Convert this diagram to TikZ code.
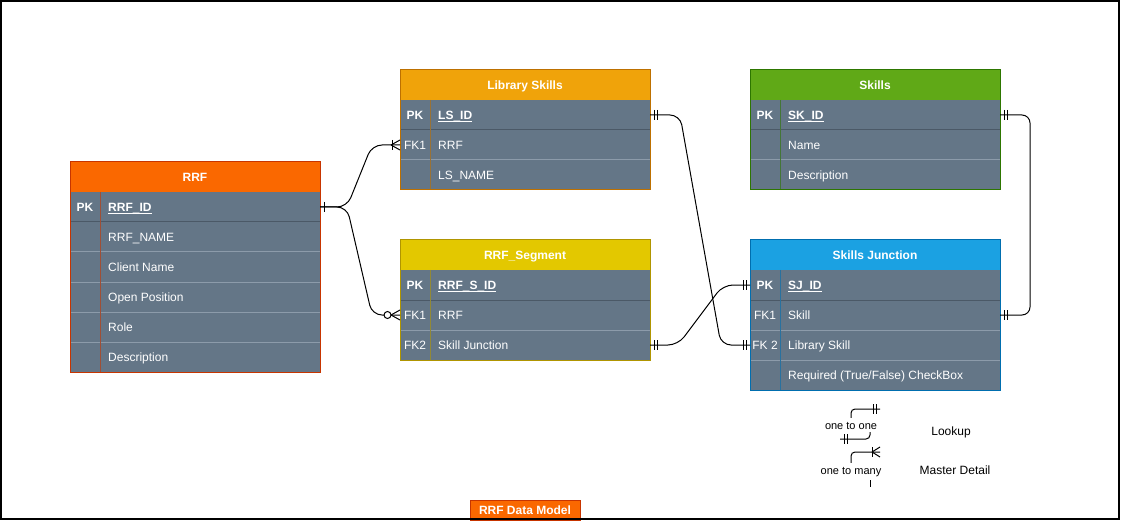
\documentclass[tikz,border=0pt]{standalone}
\usepackage{fontspec}
\setmainfont{Liberation Sans}
\definecolor{slate}{HTML}{647687}
\definecolor{sepd}{HTML}{4B5967}
\definecolor{sepl}{HTML}{8C9BAA}
\definecolor{rrfH}{HTML}{FA6800}
\definecolor{rrfS}{HTML}{C73500}
\definecolor{lsH}{HTML}{F0A30A}
\definecolor{lsS}{HTML}{BD7000}
\definecolor{sgH}{HTML}{E3C800}
\definecolor{sgS}{HTML}{B09500}
\definecolor{skH}{HTML}{60A917}
\definecolor{skS}{HTML}{2D7600}
\definecolor{sjH}{HTML}{1BA1E2}
\definecolor{sjS}{HTML}{006EAF}
\newcommand{\dfont}{\fontsize{12}{14}\selectfont}
\newcommand{\ulx}[1]{\setbox0\hbox{#1}\rlap{\rule[-2.2pt]{\wd0}{0.8pt}}\box0}
\newcommand{\ERrow}[5]{%
  \node[rowbox] (#1) at (#2,#3) {};
  \node[keytxt] (#1k) at ([xshift=15pt]#1.west) {#4};
  \node[nametxt] (#1t) at ([xshift=38pt]#1.west) {#5};
}
\newcommand{\ERframe}[4]{% #1 header, #2 last row, #3 stroke, #4 first row
  \draw[draw=#3!60!slate, line width=1pt] ([xshift=30pt]#4.north west) -- ([xshift=30pt]#2.south west);
  \draw[draw=#3, line width=1pt] (#1.north west) rectangle (#2.south east);
}
\tikzset{
  rowbox/.style={fill=slate, minimum width=250pt, minimum height=30pt, inner sep=0pt, outer sep=0pt, anchor=north west},
  hdrbox/.style={fill=#1, minimum width=250pt, minimum height=30pt, inner sep=0pt, outer sep=0pt, anchor=north west, text=white, font=\dfont\bfseries, text height=8.6pt, text depth=0pt},
  keytxt/.style={text=white, inner sep=0pt, anchor=center, font=\dfont, text height=8.6pt, text depth=0pt},
  nametxt/.style={text=white, inner sep=0pt, anchor=west, font=\dfont, text height=8.6pt, text depth=0pt},
  conn/.style={draw=black, line width=1pt, rounded corners=10pt},
  tick/.style={draw=black, line width=1pt},
  sepdark/.style={draw=sepd, line width=1pt},
  seplight/.style={draw=sepl, line width=1pt},
  legtxt/.style={text=black, inner sep=0pt, font=\fontsize{11}{13}\selectfont, text height=8pt, text depth=0pt},
  legtxtb/.style={text=black, inner sep=0pt, font=\dfont, text height=8.6pt, text depth=0pt},
}
\begin{document}
\begin{tikzpicture}[x=1pt,y=-1pt]
\useasboundingbox (0,0) rectangle (1121,521);
\fill[white] (0,0) rectangle (1121,521);

% ---------- RRF ----------
\node[hdrbox=rrfH] (rrfh) at (70,162) {RRF};
\ERrow{rrf1}{70}{192}{\textbf{PK}}{\textbf{\ulx{RRF\_ID}}}
\ERrow{rrf2}{70}{222}{}{RRF\_NAME}
\ERrow{rrf3}{70}{252}{}{Client Name}
\ERrow{rrf4}{70}{282}{}{Open Position}
\ERrow{rrf5}{70}{312}{}{Role}
\ERrow{rrf6}{70}{342}{}{Description}
\draw[sepdark] (rrf1.south west) -- (rrf1.south east);
\foreach \r in {2,...,5} \draw[seplight] (rrf\r.south west) -- (rrf\r.south east);
\ERframe{rrfh}{rrf6}{rrfS}{rrf1}

% ---------- Library Skills ----------
\node[hdrbox=lsH] (lsh) at (400,70) {Library Skills};
\ERrow{ls1}{400}{100}{\textbf{PK}}{\textbf{\ulx{LS\_ID}}}
\ERrow{ls2}{400}{130}{FK1}{RRF}
\ERrow{ls3}{400}{160}{}{LS\_NAME}
\draw[sepdark] (ls1.south west) -- (ls1.south east);
\draw[seplight] (ls2.south west) -- (ls2.south east);
\ERframe{lsh}{ls3}{lsS}{ls1}

% ---------- RRF_Segment ----------
\node[hdrbox=sgH] (sgh) at (400,240) {RRF\_Segment};
\ERrow{sg1}{400}{270}{\textbf{PK}}{\textbf{\ulx{RRF\_S\_ID}}}
\ERrow{sg2}{400}{300}{FK1}{RRF}
\ERrow{sg3}{400}{330}{FK2}{Skill Junction}
\draw[sepdark] (sg1.south west) -- (sg1.south east);
\draw[seplight] (sg2.south west) -- (sg2.south east);
\ERframe{sgh}{sg3}{sgS}{sg1}

% ---------- Skills ----------
\node[hdrbox=skH] (skh) at (750,70) {Skills};
\ERrow{sk1}{750}{100}{\textbf{PK}}{\textbf{\ulx{SK\_ID}}}
\ERrow{sk2}{750}{130}{}{Name}
\ERrow{sk3}{750}{160}{}{Description}
\draw[sepdark] (sk1.south west) -- (sk1.south east);
\draw[seplight] (sk2.south west) -- (sk2.south east);
\ERframe{skh}{sk3}{skS}{sk1}

% ---------- Skills Junction ----------
\node[hdrbox=sjH] (sjh) at (750,240) {Skills Junction};
\ERrow{sj1}{750}{270}{\textbf{PK}}{\textbf{\ulx{SJ\_ID}}}
\ERrow{sj2}{750}{300}{FK1}{Skill}
\ERrow{sj3}{750}{330}{FK 2}{Library Skill}
\ERrow{sj4}{750}{360}{}{Required (True/False) CheckBox}
\draw[sepdark] (sj1.south west) -- (sj1.south east);
\draw[seplight] (sj2.south west) -- (sj2.south east);
\draw[seplight] (sj3.south west) -- (sj3.south east);
\ERframe{sjh}{sj4}{sjS}{sj1}

% ---------- connectors ----------
\draw[conn] (rrf1.east) -- ++(27,0) -- ([xshift=-28pt]ls2.west) -- (ls2.west);
\draw[conn] (rrf1.east) -- ++(27,0) -- ([xshift=-28pt]sg2.west) -- (sg2.west);
\draw[tick] ([xshift=4pt]rrf1.east) ++(0,-5) -- ++(0,10);
% crow's foot + bar at Library Skills FK1
\draw[tick] ([xshift=-9pt]ls2.west) -- ++(9,-5);
\draw[tick] ([xshift=-9pt]ls2.west) -- ++(9,5);
\draw[tick] ([xshift=-8pt]ls2.west) ++(0,-5) -- ++(0,10);
% circle + crow's foot at RRF_Segment FK1
\draw[tick] ([xshift=-9pt]sg2.west) -- ++(9,-5);
\draw[tick] ([xshift=-9pt]sg2.west) -- ++(9,5);
\draw[tick, fill=white] ([xshift=-12.5pt]sg2.west) circle (3.5pt);

% Library Skills PK -> Skills Junction FK2
\draw[conn] (ls1.east) -- ([xshift=30pt]ls1.east) -- ([xshift=-29pt]sj3.west) -- (sj3.west);
\draw[tick] ([xshift=4pt]ls1.east) ++(0,-5) -- ++(0,10);
\draw[tick] ([xshift=7pt]ls1.east) ++(0,-5) -- ++(0,10);
\draw[tick] ([xshift=-4pt]sj3.west) ++(0,-5) -- ++(0,10);
\draw[tick] ([xshift=-7pt]sj3.west) ++(0,-5) -- ++(0,10);

% RRF_Segment FK2 -> Skills Junction PK
\draw[conn] (sg3.east) -- ([xshift=28pt]sg3.east) -- ([xshift=-27pt]sj1.west) -- (sj1.west);
\draw[tick] ([xshift=4pt]sg3.east) ++(0,-5) -- ++(0,10);
\draw[tick] ([xshift=7pt]sg3.east) ++(0,-5) -- ++(0,10);
\draw[tick] ([xshift=-4pt]sj1.west) ++(0,-5) -- ++(0,10);
\draw[tick] ([xshift=-7pt]sj1.west) ++(0,-5) -- ++(0,10);

% Skills PK -> Skills Junction FK1
\draw[conn, rounded corners=8pt] (sk1.east) -- ([xshift=30pt]sk1.east) -- ([xshift=30pt]sj2.east) -- (sj2.east);
\draw[tick] ([xshift=4pt]sk1.east) ++(0,-5) -- ++(0,10);
\draw[tick] ([xshift=7pt]sk1.east) ++(0,-5) -- ++(0,10);
\draw[tick] ([xshift=4pt]sj2.east) ++(0,-5) -- ++(0,10);
\draw[tick] ([xshift=7pt]sj2.east) ++(0,-5) -- ++(0,10);

% ---------- legend ----------
\node[legtxt] (l1) at (851,425) {one to one};
\node[legtxt] (l2) at (851,470) {one to many};
\node[legtxtb] (lk) at (951,431) {Lookup};
\node[legtxtb] (md) at (955,470) {Master Detail};
\coordinate (a1) at (880,409);
\coordinate (b2) at (870,432);
\coordinate (a2) at (840,439);
\coordinate (a3) at (880,452);
\coordinate (c1) at (870,480);
\coordinate (c2) at (870,487);
\draw[conn, rounded corners=4pt] ([yshift=3pt]l1.north) |- (a1);
\draw[tick] ([xshift=-4pt]a1) ++(0,-5) -- ++(0,10);
\draw[tick] ([xshift=-7pt]a1) ++(0,-5) -- ++(0,10);
\draw[conn, rounded corners=4pt] (b2) |- (a2);
\draw[tick] ([xshift=4pt]a2) ++(0,-5) -- ++(0,10);
\draw[tick] ([xshift=7pt]a2) ++(0,-5) -- ++(0,10);
\draw[conn, rounded corners=4pt] ([yshift=3pt]l2.north) |- (a3);
\draw[tick] ([xshift=-8pt]a3) -- ++(8,-5);
\draw[tick] ([xshift=-8pt]a3) -- ++(8,5);
\draw[tick] ([xshift=-8pt]a3) ++(0,-5) -- ++(0,10);
\draw[tick] (c1) -- (c2);

% ---------- title ----------
\node[fill=rrfH, draw=rrfS, line width=1pt, text=white, font=\dfont\bfseries, minimum width=110pt, minimum height=20pt, inner sep=0pt, text height=8.6pt, text depth=0pt] (title) at (525,510) {RRF Data Model};

% ---------- page frame ----------
\draw[line width=1.2pt] (1,1) rectangle (1119,519);
\end{tikzpicture}
\end{document}
